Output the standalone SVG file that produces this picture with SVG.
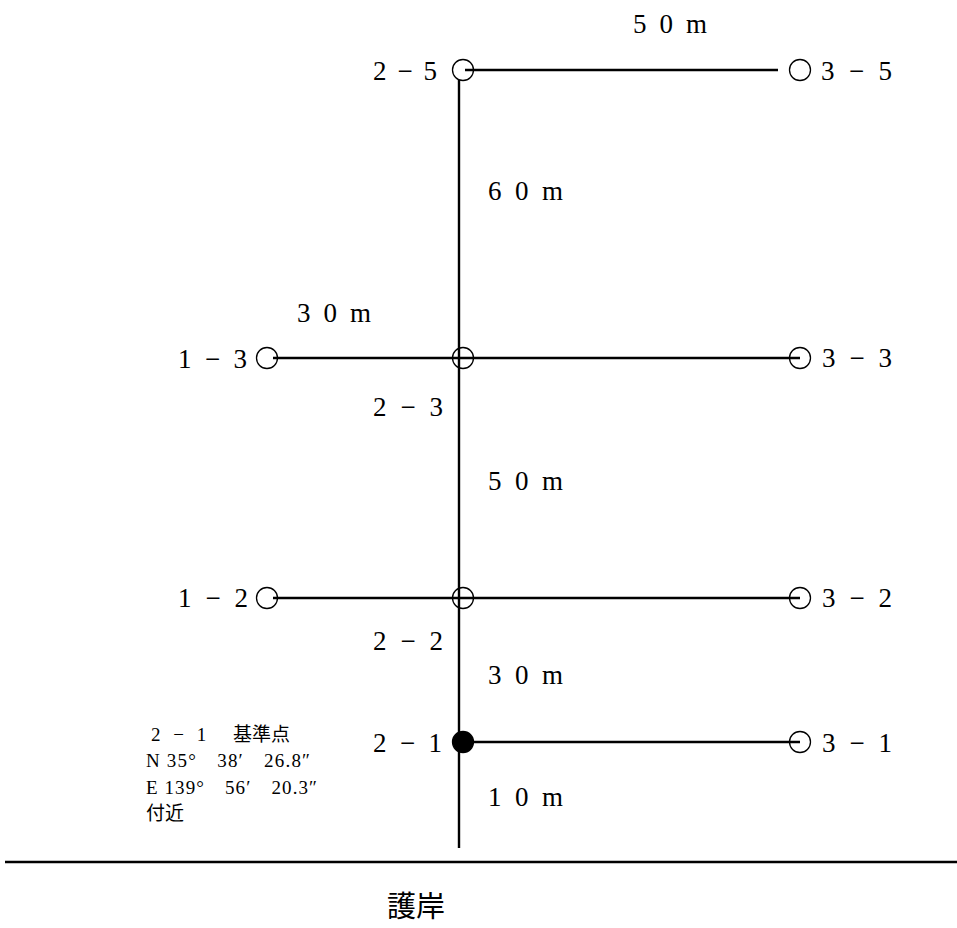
<svg xmlns="http://www.w3.org/2000/svg" width="957" height="928" viewBox="0 0 957 928">
<style>
.t{font-family:'Liberation Serif','Noto Sans CJK JP',serif;font-size:27px;fill:#000}
.s{font-family:'Liberation Serif','Noto Sans CJK JP',serif;font-size:19px;fill:#000}
.j{font-family:'Noto Sans CJK JP',sans-serif;font-size:29px;fill:#000}
.ln{stroke:#000;stroke-width:2.4;fill:none}
.c{stroke:#000;stroke-width:1.3;fill:none}
.f{stroke:#000;stroke-width:1.3;fill:#000}
</style>
<rect width="957" height="928" fill="#fff"/>
<g id="connectors">
<line class="ln" x1="459" y1="80" x2="459" y2="848"/>
<line class="ln" x1="465" y1="70" x2="778" y2="70"/>
<line class="ln" x1="273" y1="358" x2="800" y2="358"/>
<line class="ln" x1="273" y1="598" x2="800" y2="598"/>
<line class="ln" x1="463" y1="742" x2="800" y2="742"/>
<line class="ln" x1="5" y1="862" x2="957" y2="862" stroke-width="2.6"/>
</g>
<g id="n2-5"><circle class="c" cx="463" cy="70" r="10.5"/><text class="t" x="373" y="80" textLength="64" lengthAdjust="spacing">2 − 5</text></g>
<g id="n3-5"><circle class="c" cx="800" cy="70" r="10.5"/><text class="t" x="821" y="80" textLength="71" lengthAdjust="spacing">3 − 5</text></g>
<g id="n1-3"><circle class="c" cx="267" cy="358" r="10.5"/><text class="t" x="178" y="368" textLength="69" lengthAdjust="spacing">1 − 3</text></g>
<g id="n2-3"><circle class="c" cx="463" cy="358" r="10.5"/><text class="t" x="373" y="416" textLength="70" lengthAdjust="spacing">2 − 3</text></g>
<g id="n3-3"><circle class="c" cx="800" cy="358" r="10.5"/><text class="t" x="822" y="367" textLength="70" lengthAdjust="spacing">3 − 3</text></g>
<g id="n1-2"><circle class="c" cx="267" cy="598" r="10.5"/><text class="t" x="178" y="607" textLength="70" lengthAdjust="spacing">1 − 2</text></g>
<g id="n2-2"><circle class="c" cx="463" cy="598" r="10.5"/><text class="t" x="373" y="650" textLength="70" lengthAdjust="spacing">2 − 2</text></g>
<g id="n3-2"><circle class="c" cx="800" cy="598" r="10.5"/><text class="t" x="822" y="607" textLength="70" lengthAdjust="spacing">3 − 2</text></g>
<g id="n2-1"><circle class="f" cx="463" cy="742" r="10.5"/><text class="t" x="373" y="752" textLength="69" lengthAdjust="spacing">2 − 1</text></g>
<g id="n3-1"><circle class="c" cx="800" cy="742" r="10.5"/><text class="t" x="822" y="752" textLength="70" lengthAdjust="spacing">3 − 1</text></g>
<g id="labels">
<text class="t" x="633" y="33" textLength="74" lengthAdjust="spacing">5 0 m</text>
<text class="t" x="488" y="200" textLength="75" lengthAdjust="spacing">6 0 m</text>
<text class="t" x="297" y="322" textLength="74" lengthAdjust="spacing">3 0 m</text>
<text class="t" x="488" y="490" textLength="75" lengthAdjust="spacing">5 0 m</text>
<text class="t" x="488" y="684" textLength="75" lengthAdjust="spacing">3 0 m</text>
<text class="t" x="488" y="806" textLength="75" lengthAdjust="spacing">1 0 m</text>
</g>
<g id="note">
<text class="s" y="741"><tspan x="151" letter-spacing="4">2 − 1</tspan><tspan x="233">基準点</tspan></text>
<text class="s" x="146" y="767" textLength="164" lengthAdjust="spacing">N 35°　38′　26.8″</text>
<text class="s" x="146" y="794" textLength="171" lengthAdjust="spacing">E 139°　56′　20.3″</text>
<text class="s" x="146" y="820">付近</text>
</g>
<g id="shore"><text class="j" x="387" y="917">護岸</text></g>
</svg>
